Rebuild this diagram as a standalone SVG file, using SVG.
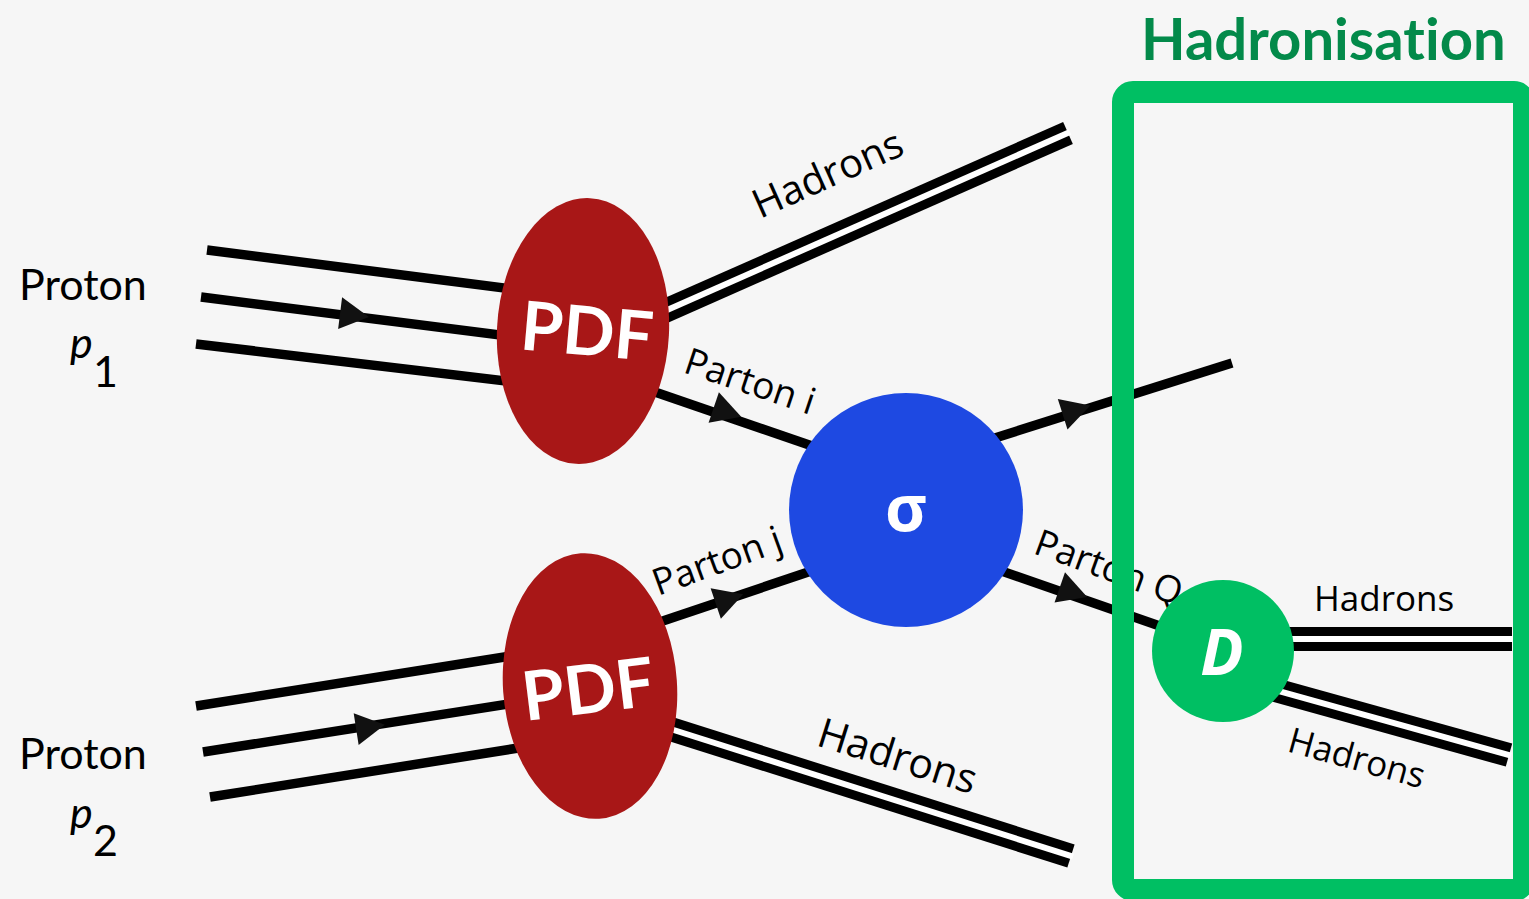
<svg xmlns="http://www.w3.org/2000/svg" xmlns:xlink="http://www.w3.org/1999/xlink" width="1529" height="899" viewBox="0 0 1529 899">
<style>
.ln{stroke:#000;stroke-width:9.5;fill:none;stroke-linecap:butt}
.dbo{stroke:#000;stroke-width:24;fill:none}
.dbi{stroke:#fff;stroke-width:6;fill:none}
.lbl{font-family:"Open Sans","DejaVu Sans",sans-serif;fill:#000}
.prot{font-family:Lato,"Liberation Sans",sans-serif;fill:#000;font-size:43px}
.nodetxt{font-family:"Open Sans","DejaVu Sans",sans-serif;fill:#fff;font-weight:bold;text-anchor:middle}
.pdf{font-family:Lato,"Liberation Sans",sans-serif;fill:#fff;font-weight:bold;text-anchor:middle}
.arr{fill:#111}
</style>
<defs>
<path id="arr" d="M 15 0 L -14 -16 L -14 16 Z"/>
</defs>
<rect x="0" y="0" width="1529" height="899" fill="#f6f6f6"/>
<g id="connectors">
<line class="ln" x1="207" y1="250" x2="540" y2="292.5"/>
<line class="ln" x1="201" y1="297" x2="540" y2="340"/>
<line class="ln" x1="196" y1="344" x2="540" y2="385"/>
<line class="ln" x1="196" y1="706" x2="540" y2="651.4"/>
<line class="ln" x1="203" y1="752" x2="540" y2="699"/>
<line class="ln" x1="210" y1="797" x2="550" y2="743"/>
<line class="ln" x1="620" y1="380" x2="850" y2="459"/>
<line class="ln" x1="960" y1="449" x2="1232" y2="363"/>
<line class="ln" x1="630" y1="632" x2="850" y2="558"/>
<line class="ln" x1="970" y1="560" x2="1200" y2="640"/>
<line class="dbo" x1="640" y1="322" x2="1068" y2="133"/>
<line class="dbi" x1="640" y1="322" x2="1070" y2="132"/>
<line class="dbo" x1="650" y1="722.5" x2="1071" y2="856"/>
<line class="dbi" x1="650" y1="722.5" x2="1073" y2="856.6"/>
<line class="dbo" x1="1223" y1="639" x2="1512" y2="639"/>
<line class="dbi" x1="1223" y1="639" x2="1514" y2="639"/>
<line class="dbo" x1="1223" y1="675.6" x2="1509" y2="755"/>
<line class="dbi" x1="1223" y1="675.6" x2="1511" y2="755.6"/>
<use href="#arr" class="arr" transform="translate(354,315) rotate(7.2)"/>
<use href="#arr" class="arr" transform="translate(370,727) rotate(-8.9)"/>
<use href="#arr" class="arr" transform="translate(727,412) rotate(18.8)"/>
<use href="#arr" class="arr" transform="translate(1076,410) rotate(-17.6)"/>
<use href="#arr" class="arr" transform="translate(729,599) rotate(-18.7)"/>
<use href="#arr" class="arr" transform="translate(1073,592) rotate(19.1)"/>
</g>
<g id="labels">
<text class="lbl" font-size="40" transform="translate(760,219) rotate(-24)">Hadrons</text>
<text class="lbl" font-size="37" transform="translate(682,372) rotate(18.5)">Parton i</text>
<text class="lbl" font-size="37" transform="translate(658,596) rotate(-20)">Parton j</text>
<text class="lbl" font-size="37" transform="translate(1032,553) rotate(20)">Parton Q</text>
<text class="lbl" font-size="41" transform="translate(815,745) rotate(17.5)">Hadrons</text>
<text class="lbl" font-size="35" x="1314" y="611">Hadrons</text>
<text class="lbl" font-size="35" transform="translate(1286,751) rotate(15.5)">Hadrons</text>
</g>
<g id="proton1">
<text class="prot" x="19" y="300">Proton</text>
<text class="prot" x="70" y="358" font-style="italic">p</text>
<text class="prot" x="93" y="387" font-size="28">1</text>
</g>
<g id="proton2">
<text class="prot" x="19" y="769">Proton</text>
<text class="prot" x="70" y="828" font-style="italic">p</text>
<text class="prot" x="93" y="856" font-size="28">2</text>
</g>
<g id="hadronisation">
<rect x="1123" y="92" width="401" height="798" rx="10" fill="none" stroke="#00bf63" stroke-width="22"/>
<text x="1141" y="60" font-family="Lato,'Liberation Sans',sans-serif" font-weight="bold" font-size="58" fill="#038a4a" style="font-variant-ligatures:none">Hadronisation</text>
</g>
<g id="pdf1">
<ellipse cx="583" cy="331" rx="86" ry="133" fill="#a81717" transform="rotate(3 583 331)"/>
<text class="pdf" font-size="68" transform="translate(585,355) rotate(5)">PDF</text>
</g>
<g id="pdf2">
<ellipse cx="590" cy="686" rx="87" ry="133" fill="#a81717" transform="rotate(-4 590 686)"/>
<text class="pdf" font-size="68" transform="translate(591,713) rotate(-7)">PDF</text>
</g>
<g id="sigma">
<circle cx="906" cy="510" r="117" fill="#1e49e2"/>
<text class="nodetxt" font-size="64" x="906" y="531">σ</text>
</g>
<g id="D">
<circle cx="1223" cy="651" r="71" fill="#00bf63"/>
<text class="nodetxt" font-size="64" font-style="italic" x="1222" y="675">D</text>
</g>
</svg>
